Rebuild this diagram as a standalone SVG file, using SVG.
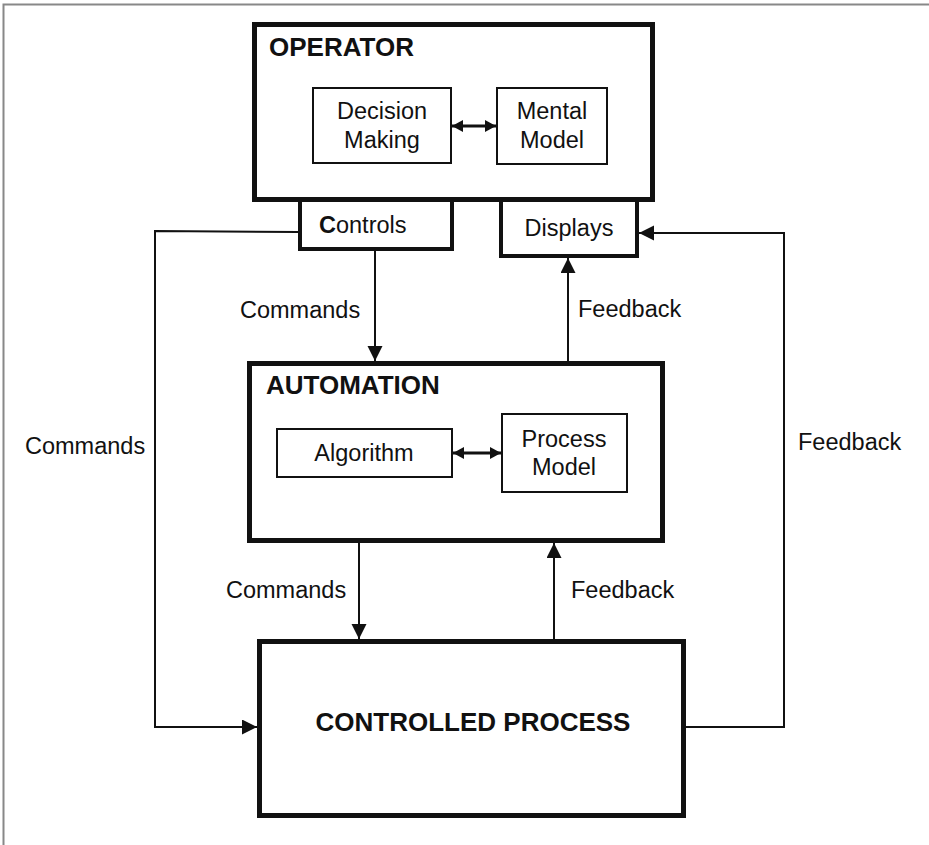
<svg xmlns="http://www.w3.org/2000/svg" width="929" height="845" viewBox="0 0 929 845">
<style>
text{font-family:"Liberation Sans",Arial,sans-serif;fill:#111}
.t{font-size:23.5px}
.h{font-size:26px;font-weight:bold}
.thick{fill:#fff;stroke:#111;stroke-width:5}
.mid{fill:#fff;stroke:#111;stroke-width:4}
.thin{fill:#fff;stroke:#111;stroke-width:2}
.c{fill:none;stroke:#111;stroke-width:2}
.d{fill:none;stroke:#111;stroke-width:3}
</style>
<defs>
<marker id="ah" markerUnits="userSpaceOnUse" markerWidth="17" markerHeight="16" refX="15" refY="7.5" orient="auto"><path d="M0,0 L15,7.5 L0,15 z" fill="#111"/></marker>
<marker id="as" markerUnits="userSpaceOnUse" markerWidth="14" markerHeight="14" refX="11" refY="6" orient="auto-start-reverse"><path d="M0,0 L11,6 L0,12 z" fill="#111"/></marker>
</defs>
<rect width="929" height="845" fill="#fff"/>
<path d="M3.5,845 V4.5 H929" fill="none" stroke="#888" stroke-width="2"/>
<g id="operator">
<rect class="thick" x="254.5" y="24.5" width="398" height="175"/>
<text class="h" x="269" y="56">OPERATOR</text>
</g>
<g id="automation">
<rect class="thick" x="249.5" y="363.5" width="413" height="177"/>
<text class="h" x="266" y="394">AUTOMATION</text>
</g>
<g id="controlled-process">
<rect class="thick" x="259.5" y="641.5" width="424" height="174"/>
<text class="h" x="473" y="731" text-anchor="middle">CONTROLLED PROCESS</text>
</g>
<g id="decision-making">
<rect class="thin" x="313" y="88" width="138" height="75"/>
<text class="t" x="382" y="119" text-anchor="middle">Decision</text>
<text class="t" x="382" y="148" text-anchor="middle">Making</text>
</g>
<g id="mental-model">
<rect class="thin" x="497" y="88" width="110" height="76"/>
<text class="t" x="552" y="119" text-anchor="middle">Mental</text>
<text class="t" x="552" y="148" text-anchor="middle">Model</text>
</g>
<g id="controls">
<rect class="mid" x="300" y="200" width="152" height="49"/>
<text class="t" x="319" y="233"><tspan font-weight="bold">C</tspan>ontrols</text>
</g>
<g id="displays">
<rect class="mid" x="501" y="200" width="136" height="56"/>
<text class="t" x="569" y="236" text-anchor="middle">Displays</text>
</g>
<g id="algorithm">
<rect class="thin" x="277" y="429" width="175" height="48"/>
<text class="t" x="364" y="461" text-anchor="middle">Algorithm</text>
</g>
<g id="process-model">
<rect class="thin" x="502" y="414" width="125" height="78"/>
<text class="t" x="564" y="447" text-anchor="middle">Process</text>
<text class="t" x="564" y="475" text-anchor="middle">Model</text>
</g>
<g id="connectors">
<line class="c" x1="375" y1="251" x2="375" y2="361" marker-end="url(#ah)"/>
<line class="c" x1="568" y1="361" x2="568" y2="258" marker-end="url(#ah)"/>
<line class="c" x1="359" y1="543" x2="359" y2="639" marker-end="url(#ah)"/>
<line class="c" x1="554" y1="639" x2="554" y2="543" marker-end="url(#ah)"/>
<polyline class="c" points="298,232 155,231 155,727 257,727" marker-end="url(#ah)"/>
<polyline class="c" points="686,727 784,727 784,233 639,233" marker-end="url(#ah)"/>
<line class="d" x1="452" y1="126" x2="496" y2="126" marker-start="url(#as)" marker-end="url(#as)"/>
<line class="d" x1="453" y1="453" x2="501" y2="453" marker-start="url(#as)" marker-end="url(#as)"/>
<text class="t" x="240" y="318">Commands</text>
<text class="t" x="578" y="317">Feedback</text>
<text class="t" x="226" y="598">Commands</text>
<text class="t" x="571" y="598">Feedback</text>
<text class="t" x="25" y="454">Commands</text>
<text class="t" x="798" y="450">Feedback</text>
</g>
</svg>
